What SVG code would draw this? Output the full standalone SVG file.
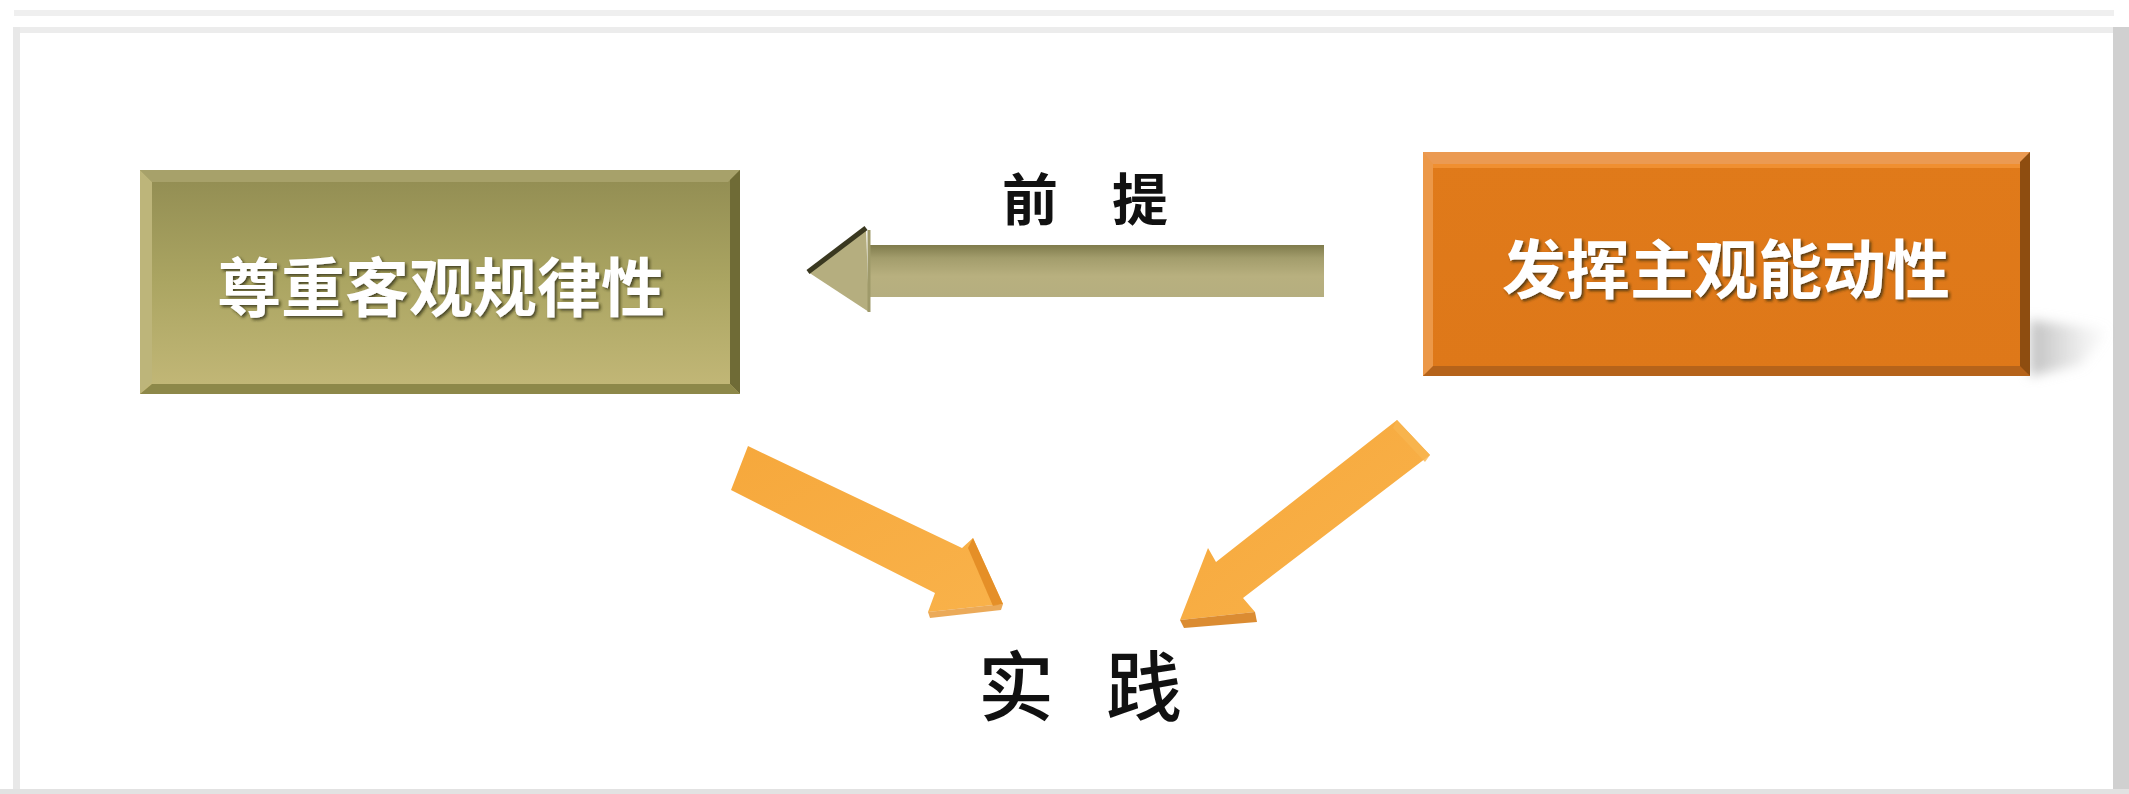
<svg xmlns="http://www.w3.org/2000/svg" width="2129" height="794" viewBox="0 0 2129 794">
<defs>
<style>
.box-text{font-family:"Noto Sans CJK SC","Noto Sans",sans-serif;font-weight:700;font-size:64px;fill:#ffffff;text-anchor:middle}
.label{font-family:"Noto Sans CJK SC","Noto Sans",sans-serif;font-weight:700;font-size:56px;fill:#111111}
.label2{font-family:"Noto Sans CJK SC","Noto Sans",sans-serif;font-weight:500;font-size:76px;fill:#111111}
</style>
<linearGradient id="olive" x1="0" y1="0" x2="0" y2="1">
<stop offset="0" stop-color="#918c52"/>
<stop offset="0.5" stop-color="#aba562"/>
<stop offset="1" stop-color="#c3b878"/>
</linearGradient>
<linearGradient id="orange" x1="0" y1="0" x2="0" y2="1">
<stop offset="0" stop-color="#e07a1a"/>
<stop offset="1" stop-color="#de7819"/>
</linearGradient>
<linearGradient id="shaft" x1="0" y1="0" x2="0" y2="1">
<stop offset="0" stop-color="#7f7b4c"/>
<stop offset="0.25" stop-color="#a39d6c"/>
<stop offset="0.6" stop-color="#b8b07f"/>
<stop offset="1" stop-color="#b5ae7f"/>
</linearGradient>
<linearGradient id="shadowGrad" x1="0" y1="0" x2="1" y2="0">
<stop offset="0" stop-color="#b8b8b8" stop-opacity="0.9"/>
<stop offset="1" stop-color="#d0d0d0" stop-opacity="0"/>
</linearGradient>
<linearGradient id="orangeArrow" x1="0" y1="0" x2="1" y2="1">
<stop offset="0" stop-color="#f6a83c"/>
<stop offset="1" stop-color="#f9b24a"/>
</linearGradient>
<filter id="ts" x="-10%" y="-30%" width="120%" height="160%">
<feDropShadow dx="2" dy="2" stdDeviation="1.5" flood-color="#2a2a10" flood-opacity="0.75"/>
</filter>
<filter id="blur" x="-20%" y="-50%" width="140%" height="200%">
<feGaussianBlur stdDeviation="6"/>
</filter>
</defs>
<rect x="0" y="0" width="2129" height="794" fill="#ffffff"/>
<g id="frame">
<rect x="14" y="10" width="2100" height="6" fill="#efefef"/>
<rect x="14" y="27" width="2100" height="6" fill="#ececec"/>
<rect x="13" y="27" width="7" height="762" fill="#e8e8e8"/>
<rect x="2113" y="27" width="16" height="767" fill="#d0d0d0"/>
<rect x="0" y="789" width="2129" height="5" fill="#e2e2e2"/>
</g>
<g id="connectors">
<g id="arrow-premise">
<rect x="869" y="245" width="455" height="52" fill="url(#shaft)"/>
<polygon points="808,272 866,228 869,312" fill="#b5ae7f"/>
<polyline points="808,272 866,228" fill="none" stroke="#3a3820" stroke-width="5"/>
<line x1="869" y1="230" x2="869" y2="312" stroke="#9f9a6a" stroke-width="3"/>
</g>
<g id="arrow-left-down">
<polygon points="748,446 962,548 973,538 1003,604 928,612 935,593 731,490" fill="url(#orangeArrow)"/>
<polygon points="973,538 1003,604 993,606 968,548" fill="#e28a22" opacity="0.85"/>
<polygon points="928,612 1003,604 1001,610 930,618" fill="#e69530" opacity="0.8"/>
</g>
<g id="arrow-right-down">
<polygon points="1397,420 1430,455 1243,598 1255,612 1180,620 1208,548 1216,562" fill="url(#orangeArrow)"/>
<polygon points="1397,420 1430,455 1425,462 1393,428" fill="#f7b550" opacity="0.8"/>
<polygon points="1180,620 1255,612 1257,622 1184,628" fill="#d77f1c" opacity="0.9"/>
</g>
</g>
<g id="node-respect">
<rect x="140" y="170" width="600" height="224" fill="url(#olive)"/>
<polygon points="140,170 740,170 728,182 152,182" fill="#a7a16a"/>
<polygon points="140,170 152,182 152,382 140,394" fill="#bdb57a"/>
<polygon points="740,170 740,394 730,384 730,180" fill="#6f6b36"/>
<polygon points="140,394 740,394 730,384 152,384" fill="#8d8849"/>
<text class="box-text" x="441" y="311" filter="url(#ts)">尊重客观规律性</text>
</g>
<g id="node-initiative">
<polygon points="2030,320 2110,330 2080,365 2030,376" fill="url(#shadowGrad)" filter="url(#blur)"/>
<rect x="1423" y="152" width="607" height="224" fill="url(#orange)"/>
<polygon points="1423,152 2030,152 2022,164 1423,164" fill="#eb9a52"/>
<rect x="1423" y="164" width="607" height="4" fill="#f08f30"/>
<polygon points="1423,152 1433,164 1433,368 1423,376" fill="#ec9848"/>
<polygon points="2030,152 2030,376 2020,368 2020,162" fill="#8e4d10"/>
<polygon points="1423,376 2030,376 2020,366 1433,366" fill="#b5631a"/>
<text class="box-text" x="1726" y="293" filter="url(#ts)">发挥主观能动性</text>
</g>
<g id="node-premise-label">
<text class="label" x="1002 1058 1112" y="220">前 提</text>
</g>
<g id="node-practice">
<text class="label2" x="978 1054 1106" y="715">实 践</text>
</g>
</svg>
